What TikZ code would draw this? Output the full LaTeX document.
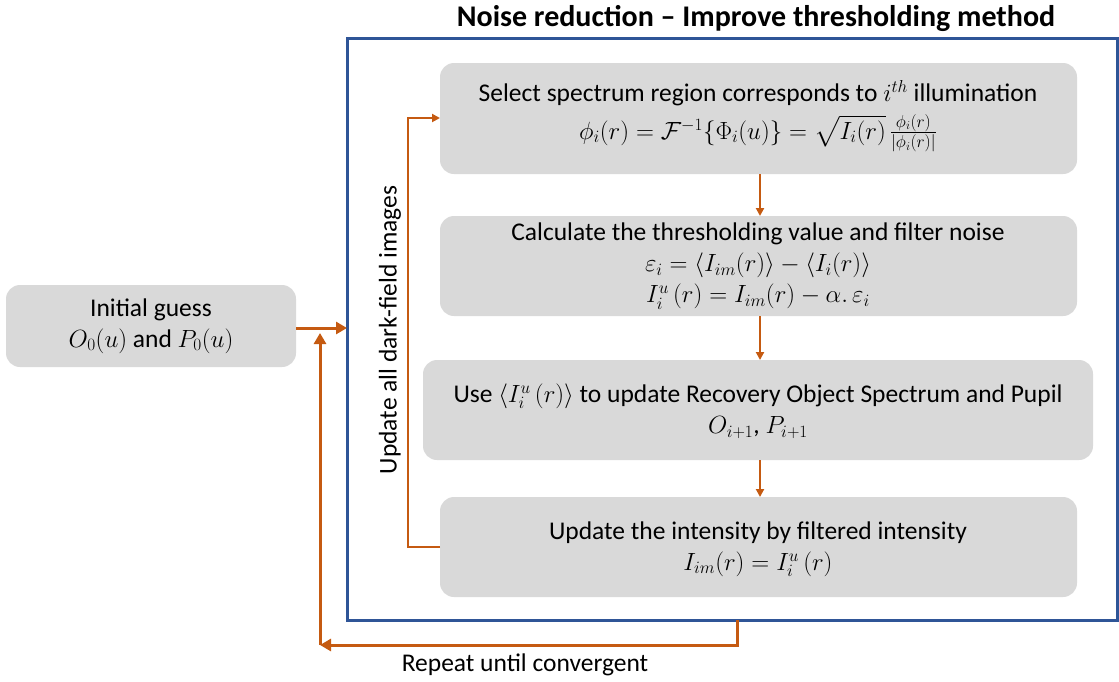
\documentclass[tikz,border=0pt]{standalone}
\usepackage{fontspec}
\usepackage{amsmath,amssymb}
\setmainfont{Carlito}
\usetikzlibrary{arrows.meta,calc}
\definecolor{boxgray}{HTML}{D9D9D9}
\definecolor{frameblue}{HTML}{2F5597}
\definecolor{flow}{HTML}{C55A11}
\begin{document}
\begin{tikzpicture}[x=1pt,y=-1pt,
  flowline/.style={draw=flow,line width=3pt,-{Triangle[length=11pt,width=12pt]}},
  thinflow/.style={draw=flow,line width=2pt,-{Triangle[length=8pt,width=8pt]}},
  graybox/.style={fill=boxgray,rounded corners=14pt},
  lbl/.style={font=\fontsize{25.5}{31}\selectfont}]
\useasboundingbox (0,0) rectangle (1119,681);

% outer frame and title
\draw[frameblue,line width=3pt] (347,38) rectangle (1117,620);
\node[font=\bfseries\fontsize{30}{34}\selectfont] (title) at (756,18) {Noise reduction -- Improve thresholding method};

% boxes
\path[graybox] (6,285) rectangle (296,367);
\node[lbl,align=center] (init) at (151,326) {Initial guess\\$O_0(u)$ and $P_0(u)$};
\coordinate (initE) at (296,328);

\path[graybox] (440,63) rectangle (1077,174);
\node[lbl,align=center] (s1) at (758,116) {Select spectrum region corresponds to $i^{th}$ illumination\\[7pt]
  $\phi_i(r)=\mathcal{F}^{-1}\{\Phi_i(u)\}=\sqrt{I_i(r)}\,\frac{\phi_i(r)}{|\phi_i(r)|}$};

\path[graybox] (440,216) rectangle (1077,316);
\node[lbl,align=center] (s2) at (758,266) {Calculate the thresholding value and filter noise\\
  $\varepsilon_i=\langle I_{im}(r)\rangle-\langle I_i(r)\rangle$\\
  $I_i^u\,(r)=I_{im}(r)-\alpha.\,\varepsilon_i$};

\path[graybox] (423,360) rectangle (1093,460);
\node[lbl,align=center] (s3) at (758,411) {Use $\langle I_i^u\,(r)\rangle$ to update Recovery Object Spectrum and Pupil\\
  $O_{i+1}$, $P_{i+1}$};

\path[graybox] (440,497) rectangle (1077,597);
\node[lbl,align=center] (s4) at (758,549) {Update the intensity by filtered intensity\\
  $I_{im}(r)=I_i^u\,(r)$};

% anchor points on box edges
\coordinate (b1S) at (760,174);
\coordinate (b2N) at (760,216);
\coordinate (b2S) at (760,316);
\coordinate (b3N) at (760,360);
\coordinate (b3S) at (760,460);
\coordinate (b4N) at (760,497);
\coordinate (b1W) at (440,118);
\coordinate (b4W) at (440,547);
\coordinate (frameW) at (347,328);
\coordinate (frameS) at (737,620);
\coordinate (loopC) at (320,645);
\coordinate (loopT) at (320,333);

% step arrows
\draw[thinflow] (b1S) -- (b2N);
\draw[thinflow] (b2S) -- (b3N);
\draw[thinflow] (b3S) -- (b4N);

% inner loop over all images
\draw[thinflow] (b4W) -- (408,547) -- (408,118) -- (b1W);
\node[lbl,rotate=90] (inner) at (390,330) {Update all dark-field images};

% entry and outer loop
\draw[flowline] (initE) -- (frameW);
\draw[flowline] (frameS) |- (loopC);
\draw[flowline] (loopC) -- (loopT);
\node[lbl] (rep) at (525,665) {Repeat until convergent};
\end{tikzpicture}
\end{document}
